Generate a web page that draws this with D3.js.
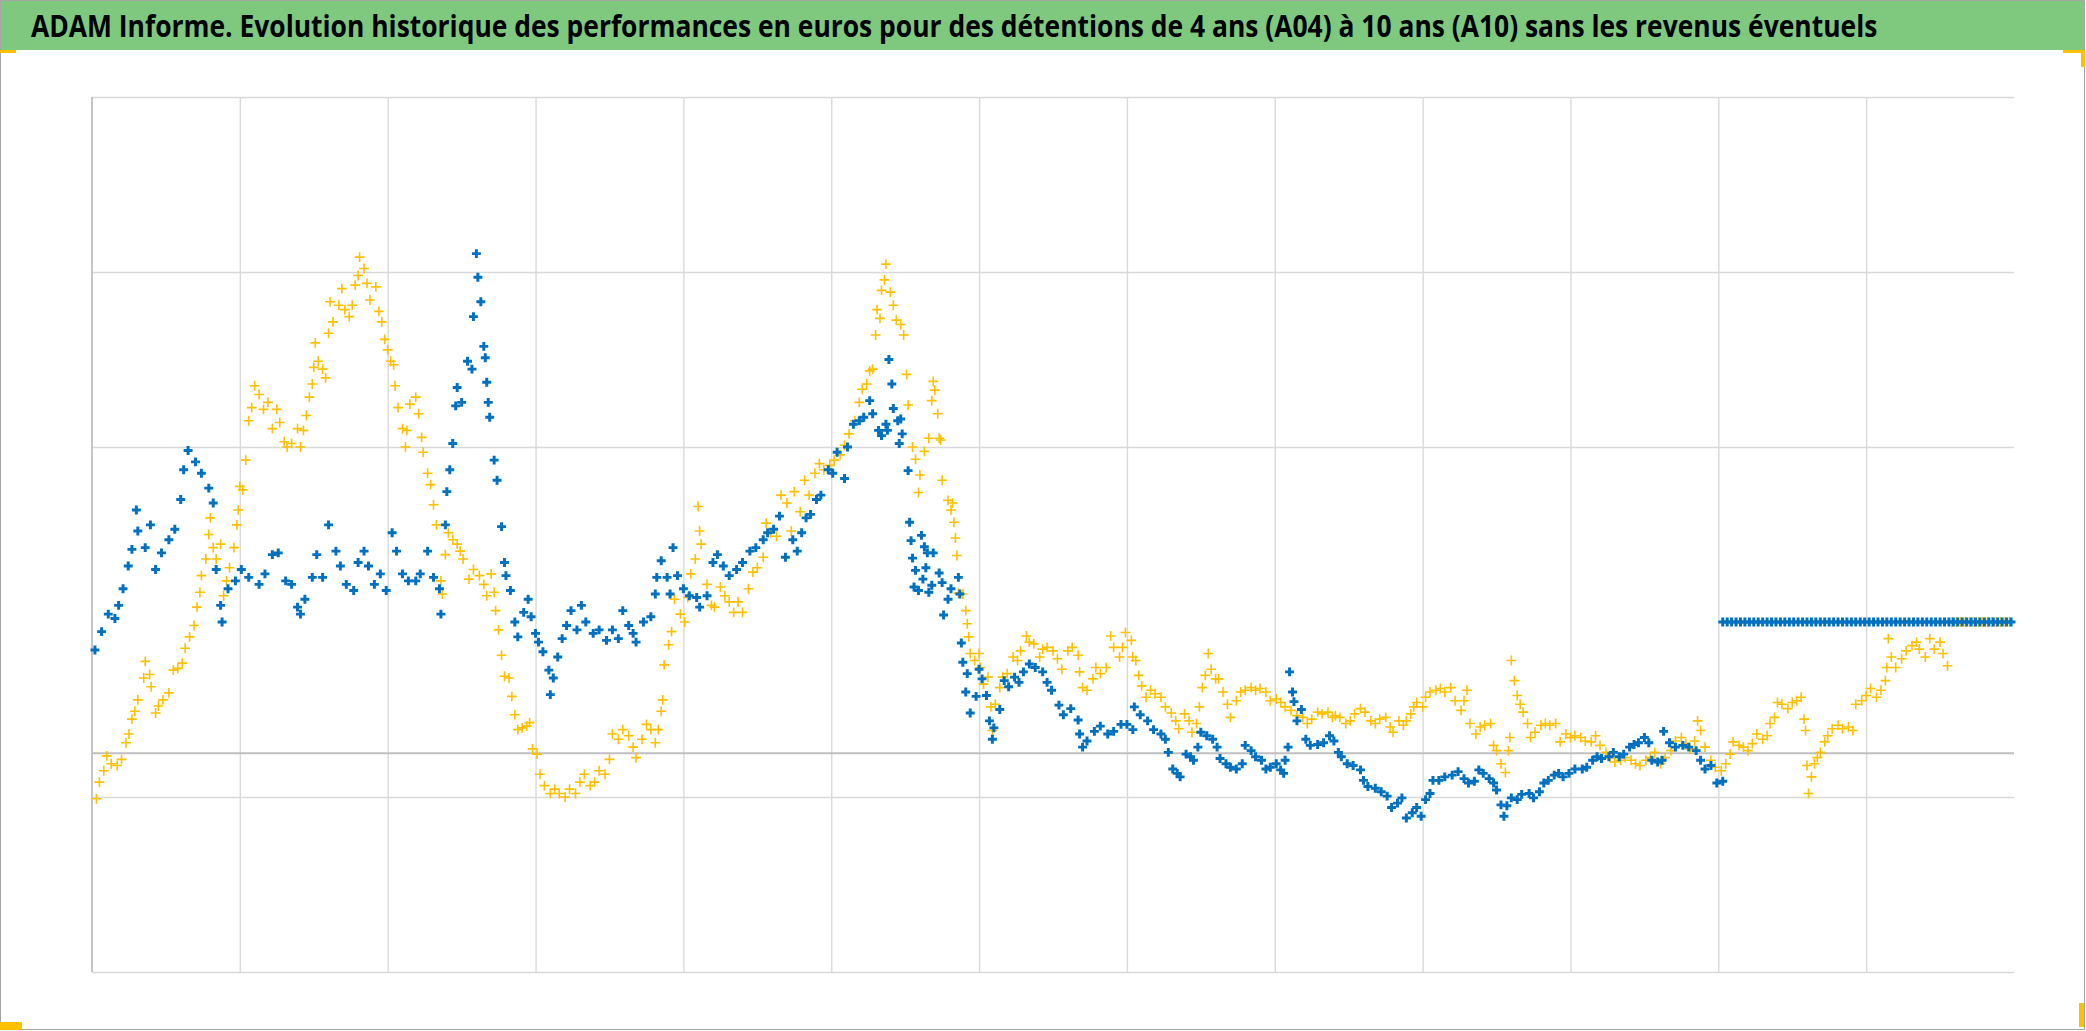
<!DOCTYPE html>
<html><head><meta charset="utf-8">
<script src="https://cdn.jsdelivr.net/npm/d3@7"></script>
<style>html,body{margin:0;padding:0;background:#fff;overflow:hidden;} svg{display:block;}</style>
</head><body>
<script>
const titleText = "ADAM Informe. Evolution historique des performances en euros pour des détentions de 4 ans (A04) à 10 ans (A10) sans les revenus éventuels";
const xDomain = [0, 13];
const yDomain = [-25, 75];
const xGridTicks = [1, 2, 3, 4, 5, 6, 7, 8, 9, 10, 11, 12];
const yGridTicks = [-25, -5, 35, 55, 75];

// série bleue : [temps (années), performance]
const serieBleue = [
[0.02,11.8],[0.065,13.9],[0.11,15.9],[0.155,15.4],[0.18,16.9],[0.21,18.8],[0.245,21.4],[0.27,23.3],[0.30,27.8],[0.31,25.4],
[0.36,23.5],[0.395,26.1],[0.43,21.0],[0.47,22.9],[0.52,24.4],[0.56,25.6],[0.60,29.0],[0.62,32.4],[0.65,34.6],[0.70,33.3],
[0.74,32.0],[0.79,30.3],[0.82,28.6],[0.84,21.0],[0.87,16.9],[0.88,15.0],[0.92,18.8],[0.97,19.7],[1.01,21.0],[1.06,20.1],
[1.13,19.3],[1.17,20.5],[1.22,22.7],[1.26,22.9],[1.31,19.7],[1.35,19.3],[1.39,16.7],[1.41,15.9],[1.44,17.6],[1.49,20.1],
[1.52,22.7],[1.56,20.1],[1.60,26.1],[1.65,23.1],[1.68,21.4],[1.72,19.3],[1.77,18.6],[1.80,21.8],[1.84,23.1],[1.87,21.4],
[1.91,19.3],[1.95,20.5],[1.99,18.6],[2.03,25.2],[2.06,23.1],[2.10,20.5],[2.14,19.7],[2.19,19.7],[2.22,20.5],[2.27,23.1],
[2.31,20.1],[2.35,18.8],[2.36,15.9],[2.39,26.1],[2.40,29.9],[2.42,32.4],[2.44,35.4],[2.46,39.7],[2.47,41.8],[2.50,40.1],
[2.54,44.8],[2.57,43.9],[2.58,49.9],[2.60,57.1],[2.61,54.4],[2.63,51.6],[2.65,46.5],[2.66,45.2],[2.67,42.4],[2.68,40.1],
[2.69,38.4],[2.72,33.5],[2.74,31.2],[2.77,25.9],[2.79,21.8],[2.80,20.3],[2.83,18.6],[2.86,15.0],[2.88,13.3],[2.92,16.1],
[2.95,17.6],[2.97,15.6],[3.00,13.7],[3.02,12.7],[3.05,11.6],[3.09,9.5],[3.10,6.7],[3.12,8.6],[3.15,11.0],[3.18,13.1],
[3.21,14.6],[3.24,16.3],[3.28,14.1],[3.31,16.9],[3.34,15.0],[3.39,13.7],[3.43,14.1],[3.48,12.9],[3.52,14.1],[3.56,13.1],
[3.59,16.3],[3.63,14.6],[3.66,13.7],[3.68,12.7],[3.73,15.0],[3.78,15.6],[3.81,18.2],[3.82,20.1],[3.85,22.0],[3.89,20.1],
[3.91,18.2],[3.93,23.5],[3.96,20.3],[4.00,18.8],[4.04,18.0],[4.09,17.8],[4.11,16.7],[4.16,18.0],[4.20,21.8],[4.23,22.7],
[4.27,21.4],[4.31,20.3],[4.36,21.0],[4.40,21.8],[4.45,23.1],[4.49,23.5],[4.54,24.4],[4.57,25.2],[4.61,25.6],[4.65,27.1],
[4.69,22.4],[4.74,24.4],[4.77,23.1],[4.80,25.2],[4.83,26.9],[4.86,27.3],[4.90,29.0],[4.93,29.5],[4.98,32.4],[5.01,32.0],
[5.04,34.4],[5.09,31.4],[5.11,35.0],[5.15,37.6],[5.19,38.0],[5.22,38.4],[5.26,40.3],[5.28,38.8],[5.32,36.9],[5.34,36.3],
[5.37,37.6],[5.38,36.9],[5.39,45.0],[5.41,42.2],[5.42,39.4],[5.45,38.0],[5.46,35.4],[5.47,38.2],[5.48,36.5],[5.52,32.3],
[5.53,26.4],[5.54,24.3],[5.55,22.3],[5.56,19.0],[5.57,20.9],[5.59,18.6],[5.61,24.9],[5.62,19.9],[5.63,23.6],[5.64,21.2],
[5.65,22.9],[5.66,18.4],[5.68,19.2],[5.69,22.9],[5.73,20.6],[5.75,19.5],[5.76,15.8],[5.79,17.6],[5.81,18.8],[5.86,20.1],
[5.87,18.2],[5.88,12.6],[5.89,10.4],[5.91,7.0],[5.92,9.1],[5.94,4.6],[5.98,6.5],[6.00,9.6],[6.02,8.5],[6.05,6.6],
[6.07,3.7],[6.09,1.6],[6.10,2.9],[6.14,5.0],[6.17,8.3],[6.20,7.6],[6.24,8.7],[6.27,8.1],[6.30,9.3],[6.34,10.2],
[6.38,9.8],[6.43,9.3],[6.46,8.1],[6.49,7.2],[6.54,5.5],[6.57,4.4],[6.62,5.1],[6.67,3.8],[6.68,2.2],[6.70,0.7],
[6.73,1.4],[6.78,2.5],[6.82,3.1],[6.87,2.2],[6.91,2.5],[6.96,3.3],[7.00,3.3],[7.04,2.7],[7.05,5.3],[7.09,4.4],
[7.14,3.7],[7.18,2.7],[7.23,2.2],[7.26,1.6],[7.28,0.1],[7.31,-1.8],[7.34,-2.3],[7.36,-2.7],[7.40,-0.1],[7.43,-0.4],
[7.45,-0.8],[7.48,0.7],[7.50,2.4],[7.54,2.0],[7.58,1.6],[7.61,0.7],[7.63,-0.6],[7.67,-1.2],[7.70,-1.6],[7.74,-1.8],
[7.78,-1.2],[7.80,0.9],[7.84,0.3],[7.87,-0.4],[7.91,-0.8],[7.94,-1.8],[7.97,-1.6],[8.01,-1.2],[8.04,-1.9],[8.06,-2.3],
[8.07,-0.8],[8.09,0.7],[8.10,9.3],[8.12,7.0],[8.13,5.9],[8.15,3.7],[8.18,5.0],[8.21,1.6],[8.24,0.9],[8.29,1.0],
[8.33,1.2],[8.37,2.0],[8.40,1.4],[8.43,0.1],[8.45,-0.4],[8.49,-1.2],[8.53,-1.4],[8.58,-1.9],[8.60,-3.1],[8.63,-3.8],
[8.68,-4.0],[8.72,-4.4],[8.76,-4.9],[8.79,-6.2],[8.83,-5.7],[8.86,-5.1],[8.89,-7.4],[8.93,-6.8],[8.96,-6.2],[8.99,-7.2],
[9.02,-5.3],[9.05,-4.6],[9.07,-3.1],[9.11,-3.1],[9.15,-2.7],[9.20,-2.5],[9.24,-2.1],[9.28,-2.9],[9.31,-3.4],[9.35,-3.2],
[9.38,-1.9],[9.41,-2.3],[9.45,-2.9],[9.48,-3.4],[9.50,-4.2],[9.53,-5.9],[9.55,-7.2],[9.57,-6.0],[9.60,-5.1],[9.64,-5.3],
[9.67,-4.7],[9.72,-4.6],[9.75,-5.1],[9.79,-4.4],[9.82,-3.4],[9.85,-3.1],[9.89,-2.5],[9.92,-2.3],[9.95,-2.7],[9.99,-2.3],
[10.03,-1.8],[10.08,-1.8],[10.11,-1.6],[10.15,-0.8],[10.18,-0.4],[10.21,-0.6],[10.26,-0.4],[10.29,0.1],[10.33,-0.4],[10.36,-0.1],
[10.40,0.7],[10.43,1.0],[10.46,1.2],[10.50,1.8],[10.53,1.2],[10.55,-0.8],[10.59,-1.0],[10.62,-0.8],[10.63,2.5],[10.67,1.2],
[10.71,0.7],[10.76,0.9],[10.80,0.7],[10.85,0.3],[10.88,-0.8],[10.91,-1.8],[10.95,-1.4],[10.99,-3.4],[11.03,-3.2]
];

// série jaune : [temps (années), performance]
const serieJaune = [
[0.03,-5.2],[0.05,-3.3],[0.08,-2.0],[0.10,-0.3],[0.13,-1.2],[0.17,-1.4],[0.20,-0.7],[0.23,1.2],[0.25,2.2],[0.27,3.9],
[0.29,4.8],[0.31,6.1],[0.35,8.6],[0.36,10.5],[0.39,9.0],[0.40,7.6],[0.43,4.6],[0.45,5.4],[0.48,6.1],[0.52,6.9],
[0.55,9.5],[0.58,9.7],[0.61,10.3],[0.63,12.0],[0.66,13.3],[0.69,14.6],[0.71,16.7],[0.73,18.4],[0.74,20.3],[0.77,22.2],
[0.79,25.0],[0.80,26.9],[0.82,23.5],[0.84,22.2],[0.87,23.9],[0.89,18.0],[0.91,19.7],[0.93,21.2],[0.96,23.5],[0.98,26.1],
[0.99,27.8],[1.00,30.5],[1.02,30.1],[1.04,33.5],[1.06,38.0],[1.08,39.5],[1.10,42.0],[1.13,41.0],[1.16,39.3],[1.19,40.1],
[1.22,37.1],[1.25,39.3],[1.27,37.8],[1.30,35.6],[1.32,35.0],[1.35,35.4],[1.39,37.1],[1.41,35.0],[1.43,36.9],[1.45,38.6],
[1.47,40.7],[1.49,42.2],[1.50,44.1],[1.51,46.9],[1.53,44.8],[1.56,43.9],[1.58,42.9],[1.60,48.0],[1.61,51.6],[1.63,49.3],
[1.67,51.2],[1.69,53.1],[1.71,50.7],[1.74,49.9],[1.76,51.2],[1.78,53.5],[1.80,54.6],[1.81,56.7],[1.84,55.4],[1.86,53.7],
[1.88,51.8],[1.92,53.3],[1.94,50.5],[1.96,49.3],[1.98,47.3],[2.00,46.1],[2.02,44.8],[2.04,44.4],[2.05,42.0],[2.07,39.5],
[2.10,37.1],[2.12,35.0],[2.13,36.9],[2.15,39.9],[2.19,40.7],[2.21,38.8],[2.23,36.1],[2.24,34.4],[2.27,32.0],[2.29,30.7],
[2.31,28.4],[2.33,26.1],[2.36,19.7],[2.37,18.2],[2.39,22.7],[2.41,25.2],[2.44,24.4],[2.47,23.9],[2.49,23.1],[2.51,22.2],
[2.55,19.9],[2.58,21.0],[2.62,20.3],[2.65,19.3],[2.67,18.0],[2.70,20.5],[2.72,18.4],[2.73,16.3],[2.75,14.1],[2.77,11.2],
[2.79,8.8],[2.82,8.6],[2.84,6.5],[2.86,4.4],[2.88,2.7],[2.91,2.9],[2.94,3.1],[2.96,3.5],[2.98,0.5],[3.01,-0.1],
[3.03,-2.4],[3.06,-3.7],[3.10,-4.6],[3.13,-4.1],[3.16,-4.6],[3.20,-5.0],[3.23,-4.1],[3.27,-4.6],[3.30,-3.3],[3.33,-2.4],
[3.37,-3.7],[3.40,-3.3],[3.43,-2.0],[3.47,-2.4],[3.50,-0.7],[3.52,2.2],[3.56,1.6],[3.59,2.7],[3.63,2.0],[3.66,0.7],
[3.68,-0.5],[3.72,1.6],[3.75,3.3],[3.78,2.7],[3.81,1.2],[3.83,2.7],[3.85,4.8],[3.86,6.1],[3.87,10.1],[3.90,12.4],
[3.92,13.9],[3.94,17.6],[3.98,15.9],[4.01,15.0],[4.03,17.8],[4.05,20.5],[4.08,22.2],[4.10,28.2],[4.11,25.4],[4.12,23.9],
[4.16,19.3],[4.19,16.9],[4.21,16.7],[4.25,19.0],[4.28,18.0],[4.31,17.3],[4.34,16.1],[4.37,17.3],[4.40,16.1],[4.44,18.8],
[4.47,20.7],[4.50,21.2],[4.54,22.4],[4.56,26.3],[4.59,25.2],[4.63,24.8],[4.66,29.5],[4.70,28.6],[4.73,25.4],[4.75,29.9],
[4.79,27.6],[4.82,31.2],[4.85,29.5],[4.89,32.0],[4.92,33.1],[4.95,32.4],[4.99,32.9],[5.02,33.5],[5.06,34.1],[5.09,35.2],
[5.12,36.5],[5.16,38.0],[5.19,40.1],[5.21,41.6],[5.24,42.2],[5.26,43.7],[5.28,43.9],[5.30,47.8],[5.31,50.7],[5.33,49.7],
[5.34,52.9],[5.36,54.1],[5.37,55.9],[5.40,52.7],[5.42,51.2],[5.44,49.5],[5.47,49.0],[5.49,47.8],[5.51,43.3],[5.52,39.8],
[5.55,35.0],[5.57,33.6],[5.59,29.8],[5.60,31.8],[5.63,34.5],[5.66,36.0],[5.68,40.3],[5.69,42.5],[5.70,41.5],[5.72,38.8],
[5.73,36.0],[5.74,35.8],[5.75,31.2],[5.79,28.9],[5.81,27.8],[5.82,28.6],[5.83,26.4],[5.84,24.6],[5.85,22.6],[5.86,18.3],
[5.89,18.2],[5.91,16.3],[5.92,14.8],[5.93,13.3],[5.94,11.4],[5.97,10.6],[6.00,11.4],[6.01,9.8],[6.03,7.9],[6.06,8.7],
[6.08,5.3],[6.09,2.6],[6.11,5.6],[6.14,7.5],[6.16,8.7],[6.19,9.1],[6.23,11.0],[6.26,10.6],[6.28,11.7],[6.32,13.4],
[6.34,12.7],[6.37,12.5],[6.41,11.0],[6.43,11.9],[6.46,12.1],[6.50,11.7],[6.53,10.8],[6.56,9.6],[6.60,11.7],[6.63,12.1],
[6.67,11.2],[6.68,9.3],[6.70,7.5],[6.73,7.2],[6.77,8.5],[6.79,9.8],[6.82,9.1],[6.86,9.8],[6.89,13.4],[6.91,12.1],
[6.95,11.0],[6.97,12.1],[6.99,13.8],[7.03,12.9],[7.04,11.0],[7.06,10.6],[7.08,8.9],[7.10,7.7],[7.13,6.4],[7.16,7.2],
[7.19,6.8],[7.23,6.4],[7.26,5.3],[7.30,4.6],[7.33,3.7],[7.35,2.8],[7.39,4.5],[7.42,3.7],[7.44,2.4],[7.47,3.4],
[7.49,5.3],[7.51,7.5],[7.53,8.9],[7.55,11.4],[7.57,9.6],[7.60,8.5],[7.62,8.5],[7.65,7.0],[7.68,5.6],[7.70,4.1],
[7.74,6.0],[7.77,7.0],[7.80,7.2],[7.84,7.5],[7.87,7.2],[7.90,7.4],[7.94,7.0],[7.97,6.0],[8.01,6.2],[8.04,5.8],
[8.07,5.3],[8.11,4.9],[8.15,4.3],[8.19,4.1],[8.22,3.4],[8.25,3.9],[8.29,4.7],[8.32,4.5],[8.36,4.7],[8.39,4.1],
[8.41,4.3],[8.44,4.1],[8.48,3.4],[8.51,3.7],[8.54,4.5],[8.58,5.1],[8.61,4.7],[8.65,3.7],[8.68,3.4],[8.71,3.9],
[8.75,4.1],[8.78,3.0],[8.80,2.4],[8.84,3.7],[8.87,3.2],[8.89,3.7],[8.92,4.5],[8.94,5.3],[8.96,5.8],[9.00,5.3],
[9.02,6.4],[9.05,7.0],[9.09,7.2],[9.12,7.4],[9.15,7.0],[9.19,7.5],[9.22,6.0],[9.26,4.9],[9.28,6.0],[9.30,7.2],
[9.32,3.4],[9.36,2.2],[9.39,3.0],[9.42,3.2],[9.46,3.4],[9.48,0.9],[9.50,0.3],[9.53,-1.2],[9.56,-2.2],[9.58,0.3],
[9.59,1.8],[9.60,10.6],[9.62,8.3],[9.64,6.6],[9.66,5.6],[9.68,4.7],[9.71,3.4],[9.73,1.8],[9.76,2.4],[9.80,3.2],
[9.83,3.4],[9.86,3.2],[9.90,3.4],[9.93,1.3],[9.97,2.2],[10.00,1.8],[10.03,2.0],[10.07,1.8],[10.10,1.4],[10.14,1.3],
[10.17,2.0],[10.20,0.9],[10.24,0.1],[10.27,-0.5],[10.30,-1.0],[10.34,-0.8],[10.37,-0.5],[10.41,-0.8],[10.44,-1.2],[10.47,-1.4],
[10.51,-0.8],[10.54,-0.5],[10.57,0.1],[10.61,-1.2],[10.64,-0.5],[10.68,0.3],[10.71,1.4],[10.75,1.8],[10.78,1.1],[10.81,0.5],
[10.84,1.4],[10.86,3.7],[10.88,2.6],[10.91,0.7],[10.95,-0.8],[10.98,-1.6],[11.02,-2.0],[11.05,-1.2],[11.08,-0.1],[11.10,1.3],
[11.14,0.9],[11.17,0.7],[11.20,0.3],[11.23,1.1],[11.26,2.2],[11.30,1.6],[11.33,2.0],[11.35,3.4],[11.38,4.1],[11.40,5.8],
[11.43,5.6],[11.47,5.1],[11.50,5.8],[11.53,6.0],[11.56,6.4],[11.58,3.9],[11.59,2.6],[11.60,-1.4],[11.61,-4.6],[11.63,-2.7],
[11.65,-1.2],[11.67,-0.5],[11.69,0.1],[11.72,1.3],[11.74,2.0],[11.77,2.8],[11.81,3.2],[11.84,2.8],[11.88,3.0],[11.91,2.6],
[11.93,5.6],[11.97,6.0],[12.00,6.6],[12.03,7.4],[12.07,6.4],[12.10,7.2],[12.13,8.3],[12.14,9.8],[12.15,13.1],[12.17,11.0],
[12.20,9.8],[12.24,10.8],[12.27,11.7],[12.31,12.3],[12.34,12.7],[12.36,11.9],[12.40,11.0],[12.43,13.1],[12.46,11.9],[12.50,12.7],
[12.52,11.4],[12.55,10.0]
];

// segments constants en fin de période
const bleuPlatDates = [11.03,11.06,11.09,11.12,11.15,11.18,11.21,11.24,11.27,11.30,11.33,11.36,11.39,11.42,11.45,11.48,11.51,11.54,11.57,11.60,
11.63,11.66,11.69,11.72,11.75,11.78,11.81,11.84,11.87,11.90,11.93,11.96,11.99,12.02,12.05,12.08,12.11,12.14,12.17,12.20,
12.23,12.26,12.29,12.32,12.35,12.38,12.41,12.44,12.47,12.50,12.53,12.56,12.59,12.62,12.65,12.68,12.71,12.74,12.77,12.80,
12.83,12.86,12.89,12.92,12.95,12.98];
const bleuPlatValeur = 15;
const jaunePlatDates = [12.58,12.61,12.64,12.67,12.70,12.73,12.76,12.79,12.82,12.85,12.88,12.91,12.94,12.97];
const jaunePlatValeur = 15;

// ---------------- dessin ----------------
const W = 2086, H = 1031;
const svg = d3.select("body").append("svg").attr("width", W).attr("height", H);
svg.append("rect").attr("width", W).attr("height", H).attr("fill", "#ffffff");

const x = d3.scaleLinear().domain(xDomain).range([92, 2014]);
const y = d3.scaleLinear().domain(yDomain).range([972, 97]);

// bandeau titre
svg.append("rect").attr("x", 0).attr("y", 0).attr("width", 2085).attr("height", 50).attr("fill", "#7fc97f");
const titre = svg.append("text").attr("x", 0).attr("y", 0)
  .attr("font-family", "'Open Sans','Liberation Sans',sans-serif")
  .attr("font-weight", "bold").attr("font-size", 31).attr("fill", "#000")
  .text(titleText);
const largeurNat = titre.node().getComputedTextLength();
titre.attr("transform", `translate(31,37) scale(${1847 / largeurNat},1)`);

// grilles (axes sans libellés)
const gx = svg.append("g").attr("transform", `translate(0,${y(yDomain[0])})`)
  .call(d3.axisBottom(x).tickValues(xGridTicks).tickSize(-(y(yDomain[0]) - y(yDomain[1]))).tickFormat(""));
gx.select(".domain").remove();
gx.selectAll(".tick line").attr("stroke", "#d9d9d9").attr("stroke-width", 1.4);
gx.selectAll(".tick text").remove();

const gy = svg.append("g").attr("transform", `translate(${x(0)},0)`)
  .call(d3.axisLeft(y).tickValues(yGridTicks).tickSize(-(x(xDomain[1]) - x(0))).tickFormat(""));
gy.select(".domain").remove();
gy.selectAll(".tick line").attr("stroke", "#d9d9d9").attr("stroke-width", 1.4);
gy.selectAll(".tick text").remove();

// axe vertical et axe horizontal (zéro)
svg.append("line").attr("x1", x(0)).attr("x2", x(0)).attr("y1", y(yDomain[1])).attr("y2", y(yDomain[0]))
  .attr("stroke", "#bfbfbf").attr("stroke-width", 1.8);
svg.append("line").attr("x1", x(0)).attr("x2", x(xDomain[1])).attr("y1", y(0)).attr("y2", y(0))
  .attr("stroke", "#bfbfbf").attr("stroke-width", 1.8);

// symboles
const plusFin = { draw(ctx, size) { const r = Math.sqrt(size) / 2; ctx.moveTo(-r, 0); ctx.lineTo(r, 0); ctx.moveTo(0, -r); ctx.lineTo(0, r); } };
const symJaune = d3.symbol().type(plusFin).size(96)();
const symBleu = d3.symbol().type(d3.symbolCross).size(44)();

const jaune = serieJaune.concat(jaunePlatDates.map(d => [d, jaunePlatValeur]));
const bleu = serieBleue.concat(bleuPlatDates.map(d => [d, bleuPlatValeur]));

svg.append("g").selectAll("path").data(jaune).join("path")
  .attr("d", symJaune).attr("transform", d => `translate(${x(d[0])},${y(d[1])})`)
  .attr("fill", "none").attr("stroke", "#ffc000").attr("stroke-width", 1.6);

svg.append("g").selectAll("path").data(bleu).join("path")
  .attr("d", symBleu).attr("transform", d => `translate(${x(d[0])},${y(d[1])})`)
  .attr("fill", "#0070c0");

// cadre et poignées de sélection
svg.append("rect").attr("x", 0.5).attr("y", 0.5).attr("width", 2084).attr("height", 1029)
  .attr("fill", "none").attr("stroke", "#a6a6a6").attr("stroke-width", 1);
const poignees = [[0, 50, 16, 3], [2063, 50, 21, 3], [2081, 50, 4, 17], [0, 1022, 22, 8], [2079, 1003, 5, 24]];
svg.append("g").selectAll("rect").data(poignees).join("rect")
  .attr("x", d => d[0]).attr("y", d => d[1]).attr("width", d => d[2]).attr("height", d => d[3]).attr("fill", "#ffc000");
</script>
</body></html>
